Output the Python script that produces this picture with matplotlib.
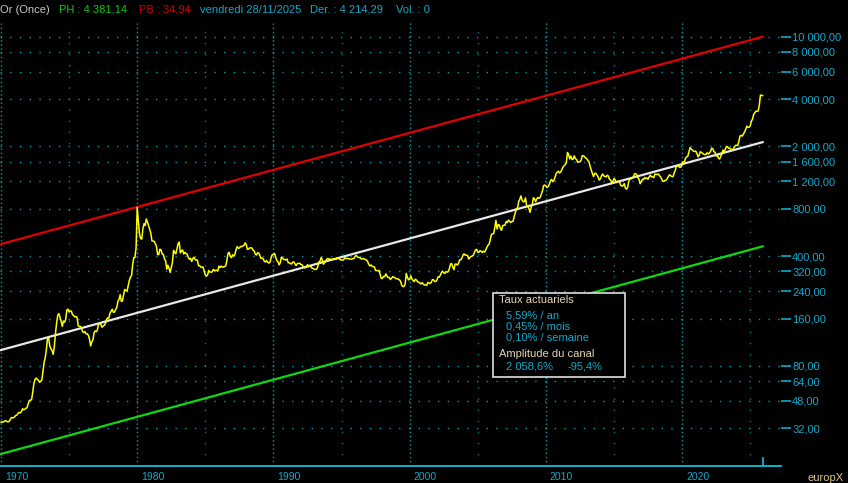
import numpy as np
import matplotlib
matplotlib.use('Agg')
import matplotlib.pyplot as plt
from matplotlib.patches import Rectangle

# cours mensuels de l'once d'or (USD), janvier 1970 -> octobre 2025
prix_1970s = [
    35.0, 35.2, 35.1, 35.6, 35.9, 35.4, 35.3, 35.4, 36.2, 37.5, 37.4, 37.4,
    37.9, 38.7, 38.9, 39.9, 40.5, 40.1, 41.0, 42.7, 42.0, 42.5, 42.9, 43.5,
    46.0, 48.3, 48.3, 49.0, 54.6, 62.1, 65.7, 67.0, 65.5, 64.9, 62.9, 63.9,
    65.1, 74.2, 84.4, 90.5, 102.0, 120.1, 120.0, 106.8, 103.0, 100.1, 94.8, 106.7,
    129.2, 150.2, 168.4, 172.2, 163.3, 154.1, 143.0, 154.6, 151.8, 158.8, 181.7, 183.9,
    176.3, 179.6, 178.2, 169.9, 167.4, 164.2, 165.1, 163.0, 144.1, 142.8, 142.8, 139.3,
    131.6, 130.6, 132.3, 128.2, 128.1, 125.3, 117.8, 107.2, 114.2, 117.2, 130.3, 133.8,
    132.2, 136.4, 148.0, 149.1, 146.9, 140.9, 143.8, 145.0, 149.5, 158.7, 162.0, 161.2,
    173.1, 178.2, 183.7, 175.3, 176.6, 183.4, 188.8, 206.4, 212.5, 227.8, 206.1, 207.8,
    227.3, 245.7, 242.1, 239.2, 257.6, 279.1, 294.7, 300.8, 355.1, 391.7, 392.5, 455.1,
]
prix_1980s = [
    820.0, 665.3, 553.6, 517.4, 513.8, 600.7, 644.3, 626.5, 690.0, 661.1, 623.5, 594.9,
    557.4, 500.5, 499.8, 495.8, 479.7, 460.8, 409.3, 410.1, 443.5, 437.8, 413.4, 410.1,
    384.0, 374.2, 330.5, 350.5, 335.1, 315.0, 339.1, 364.9, 435.3, 422.2, 414.3, 444.4,
    481.3, 491.5, 419.7, 432.2, 438.4, 413.0, 422.7, 416.3, 411.8, 393.6, 381.9, 388.0,
    370.1, 386.1, 394.0, 381.3, 377.3, 377.6, 347.8, 348.0, 341.1, 340.2, 341.2, 320.0,
    303.1, 298.9, 303.9, 324.7, 316.5, 316.8, 317.3, 329.6, 323.7, 325.1, 325.3, 321.5,
    345.4, 338.9, 345.7, 340.4, 342.6, 342.7, 348.3, 376.5, 418.0, 423.3, 398.3, 391.1,
    408.2, 401.1, 408.9, 438.4, 460.1, 449.9, 450.5, 461.1, 460.1, 465.6, 467.6, 486.3,
    476.4, 442.1, 443.6, 451.7, 451.2, 451.3, 437.5, 432.2, 412.6, 406.5, 420.3, 419.0,
    404.0, 387.8, 390.1, 384.2, 371.1, 367.6, 375.0, 365.4, 361.8, 366.9, 394.2, 409.4,
]
prix_1990s = [
    410.1, 416.8, 393.1, 374.3, 369.1, 352.3, 362.5, 394.7, 389.3, 380.7, 381.5, 378.2,
    383.6, 363.3, 363.5, 358.4, 356.8, 366.7, 367.7, 356.3, 348.7, 358.4, 359.6, 361.1,
    354.5, 353.9, 344.3, 338.6, 337.4, 340.8, 353.1, 342.9, 345.3, 344.3, 335.0, 334.5,
    329.0, 329.3, 330.1, 342.2, 367.2, 371.3, 392.2, 379.4, 355.4, 364.2, 373.3, 383.3,
    386.8, 381.9, 384.1, 377.3, 381.4, 385.6, 385.5, 380.4, 391.6, 389.8, 384.4, 379.3,
    378.6, 376.6, 382.1, 391.0, 385.1, 387.6, 386.2, 383.6, 383.1, 383.1, 386.1, 387.4,
    399.5, 404.7, 396.2, 392.9, 392.0, 385.3, 383.5, 387.5, 383.1, 381.1, 377.9, 369.3,
    354.1, 346.6, 351.9, 344.5, 343.8, 340.8, 324.1, 324.0, 322.8, 324.9, 306.0, 288.7,
    289.1, 297.5, 295.9, 308.4, 299.1, 292.3, 292.9, 284.1, 288.9, 296.1, 294.1, 291.6,
    287.3, 287.3, 286.0, 282.6, 276.4, 261.3, 256.1, 256.7, 264.7, 310.7, 293.2, 283.1,
]
prix_2000s = [
    284.6, 299.9, 286.4, 279.7, 275.2, 285.7, 281.6, 274.5, 273.7, 270.0, 266.0, 271.5,
    265.5, 261.9, 263.1, 260.5, 272.4, 270.2, 267.5, 272.4, 283.4, 283.1, 276.2, 275.8,
    281.7, 295.5, 294.0, 302.7, 314.5, 321.2, 313.3, 310.3, 319.2, 316.6, 319.2, 333.4,
    356.9, 359.0, 340.6, 328.2, 355.7, 356.4, 351.0, 359.8, 378.9, 378.9, 389.9, 407.6,
    414.0, 405.3, 406.7, 403.0, 383.5, 392.2, 398.1, 400.5, 405.3, 420.5, 439.4, 441.8,
    424.2, 423.4, 434.2, 428.9, 421.9, 430.7, 424.5, 437.9, 456.1, 469.9, 476.7, 509.8,
    549.9, 555.0, 557.1, 610.6, 676.5, 596.2, 633.7, 632.6, 598.2, 585.8, 627.8, 629.8,
    631.2, 664.8, 654.9, 679.4, 666.9, 655.5, 665.3, 665.4, 712.7, 754.6, 806.2, 803.2,
    889.6, 922.3, 968.4, 909.7, 888.7, 889.5, 939.8, 839.0, 829.9, 806.6, 760.9, 816.1,
    858.7, 943.2, 924.3, 890.2, 928.6, 945.7, 934.2, 949.4, 996.6, 1043.2, 1127.0, 1134.7,
]
prix_2010s = [
    1117.9, 1095.4, 1113.3, 1148.7, 1205.4, 1232.9, 1192.9, 1215.8, 1270.9, 1342.0, 1369.9, 1390.6,
    1356.4, 1372.7, 1424.0, 1473.8, 1510.4, 1528.7, 1572.8, 1830.0, 1772.1, 1666.4, 1739.0, 1652.3,
    1656.1, 1742.6, 1673.8, 1650.1, 1585.5, 1596.7, 1594.3, 1630.3, 1744.5, 1746.6, 1721.6, 1684.8,
    1671.9, 1627.6, 1593.1, 1487.9, 1414.0, 1343.4, 1286.7, 1347.1, 1348.6, 1316.6, 1275.8, 1221.5,
    1244.3, 1299.6, 1336.1, 1299.0, 1287.5, 1279.1, 1310.6, 1295.1, 1236.6, 1222.5, 1175.3, 1200.6,
    1250.8, 1227.1, 1178.6, 1198.9, 1198.6, 1181.5, 1128.3, 1117.9, 1124.5, 1159.3, 1086.4, 1068.3,
    1097.4, 1199.5, 1245.1, 1242.3, 1260.9, 1276.4, 1336.7, 1340.2, 1326.6, 1266.6, 1238.4, 1157.4,
    1192.1, 1234.2, 1231.4, 1266.9, 1246.0, 1260.3, 1236.8, 1283.0, 1314.1, 1279.5, 1281.9, 1264.5,
    1331.3, 1330.7, 1324.7, 1334.8, 1303.5, 1281.6, 1237.7, 1201.7, 1198.4, 1215.4, 1220.7, 1250.4,
    1291.8, 1320.1, 1300.9, 1285.9, 1283.7, 1359.0, 1412.9, 1500.4, 1510.6, 1494.8, 1470.0, 1479.1,
]
prix_2020s = [
    1560.7, 1597.1, 1591.9, 1683.2, 1715.9, 1732.2, 1846.5, 1968.6, 1921.9, 1900.3, 1866.3, 1858.4,
    1867.6, 1808.2, 1718.2, 1760.0, 1850.3, 1834.6, 1807.8, 1785.3, 1775.1, 1776.9, 1821.3, 1790.3,
    1816.0, 1856.3, 1947.8, 1937.4, 1848.5, 1836.6, 1732.8, 1764.6, 1680.6, 1664.5, 1725.1, 1797.6,
    1898.2, 1854.6, 1912.7, 1999.8, 1991.8, 1942.9, 1951.0, 1918.1, 1916.0, 1916.3, 1985.1, 2030.0,
    2033.9, 2023.2, 2158.8, 2331.2, 2351.0, 2326.2, 2398.0, 2470.2, 2570.5, 2692.2, 2650.9, 2648.0,
    2709.7, 2894.8, 2984.6, 3193.2, 3280.7, 3352.7, 3343.6, 3368.0, 3665.2, 4250.0,
]
date_der = 2025.91      # vendredi 28/11/2025
prix_der = 4214.29

# canal de régression : valeurs en début (1970) et fin (28/11/2025)
canal_dates = [1970.0, 2025.91]
canal_haut  = [478.0, 9990.0]
canal_mil   = [101.0, 2130.0]
canal_bas   = [22.0, 462.0]

y_ticks = [32, 48, 64, 80, 160, 240, 320, 400, 800, 1200, 1600, 2000,
           4000, 6000, 8000, 10000]
decennies = [1970, 1980, 1990, 2000, 2010, 2020]
demi_dec  = [1975, 1985, 1995, 2005, 2015, 2025]

prix = (prix_1970s + prix_1980s + prix_1990s + prix_2000s + prix_2010s
        + prix_2020s + [prix_der])
dates = list(1970 + np.arange(len(prix) - 1) / 12.0) + [date_der]

BG     = '#000000'
CYAN   = '#12A8C8'
GRID   = '#0A9AA8'
BEIGE  = '#E6D6B2'
W, H = 848, 483
FS = 8

plt.rcParams['font.family'] = ['Liberation Sans', 'DejaVu Sans']

fig = plt.figure(figsize=(W / 100, H / 100), dpi=100, facecolor=BG)
ax = fig.add_axes([0, 1 - 466 / H, 781 / W, (466 - 22) / H], facecolor=BG)

ax.set_yscale('log')
ax.set_xlim(1970 - 1 / 13.64, 1970 + 781 / 13.64)
ax.set_ylim(18.44, 12405)

# grille pointillée
for v in y_ticks:
    ax.axhline(v, color=GRID, lw=1, linestyle=(0, (1, 6)), zorder=1)
for yr in decennies:
    ax.axvline(yr, color=GRID, lw=1, linestyle=(0, (1, 2)), zorder=1)
for yr in demi_dec:
    ax.axvline(yr, color=GRID, lw=1, linestyle=(0, (1, 7)), zorder=1, alpha=0.8)

# canal
ax.plot(canal_dates, canal_haut, color='#E00000', lw=1.6, zorder=3)
ax.plot(canal_dates, canal_mil, color='#E8E8E8', lw=1.6, zorder=3)
ax.plot(canal_dates, canal_bas, color='#10D810', lw=1.6, zorder=3)

# cours
ax.plot(dates, prix, color='#FFFF00', lw=1.1, zorder=4)

# axes
for s in ['top', 'left', 'right']:
    ax.spines[s].set_visible(False)
ax.spines['bottom'].set_color('#10C0DC')
ax.spines['bottom'].set_linewidth(1.3)

ax.yaxis.tick_right()
ax.set_yticks(y_ticks)
ax.set_yticklabels([f'{v:,.2f}'.replace(',', ' ').replace('.', ',') for v in y_ticks])
ax.yaxis.set_minor_locator(matplotlib.ticker.NullLocator())
ax.tick_params(axis='y', colors=CYAN, length=7, width=1.2, pad=1, labelsize=FS)
ax.set_xticks([])
ax.axvline(date_der, ymin=0, ymax=8 / 444, color='#10C0DC', lw=1.2)

for yr in decennies:
    ax.annotate(str(yr), xy=(yr, 0), xycoords=('data', 'axes fraction'),
                xytext=(4, -11), textcoords='offset pixels',
                ha='left', va='center', color=CYAN, fontsize=7.5)

# en-tête
hy = 1 - 10 / H
fig.text(0 / W, hy, 'Or (Once)', color='#C8C8C8', fontsize=FS, va='center')
fig.text(59 / W, hy, 'PH : 4 381,14', color='#10C810', fontsize=FS, va='center')
fig.text(139 / W, hy, 'PB : 34,94', color='#D00000', fontsize=FS, va='center')
fig.text(200 / W, hy, 'vendredi 28/11/2025', color=CYAN, fontsize=FS, va='center')
fig.text(310 / W, hy, 'Der. : 4 214,29', color=CYAN, fontsize=FS, va='center')
fig.text(396 / W, hy, 'Vol. : 0', color=CYAN, fontsize=FS, va='center')

# encadré taux actuariels
fig.patches.append(Rectangle((493 / W, 1 - 377 / H), 132 / W, 84 / H,
                             transform=fig.transFigure, facecolor=BG,
                             edgecolor='#E0E0E0', lw=1.2, zorder=10))
def txt(x, y, s, c):
    fig.text(x / W, 1 - y / H, s, color=c, fontsize=FS, va='center', zorder=11)
txt(499, 300, 'Taux actuariels', BEIGE)
txt(506, 315.5, '5,59% / an', CYAN)
txt(506, 326.5, '0,45% / mois', CYAN)
txt(506, 337.5, '0,10% / semaine', CYAN)
txt(499, 354, 'Amplitude du canal', BEIGE)
txt(506, 366.5, '2 058,6%', CYAN)
txt(567, 366.5, '-95,4%', CYAN)

fig.text(808 / W, 1 - 478 / H, 'europX', color='#D8C888', fontsize=FS, va='center')

fig.savefig('out.png', dpi=100, facecolor=BG)
